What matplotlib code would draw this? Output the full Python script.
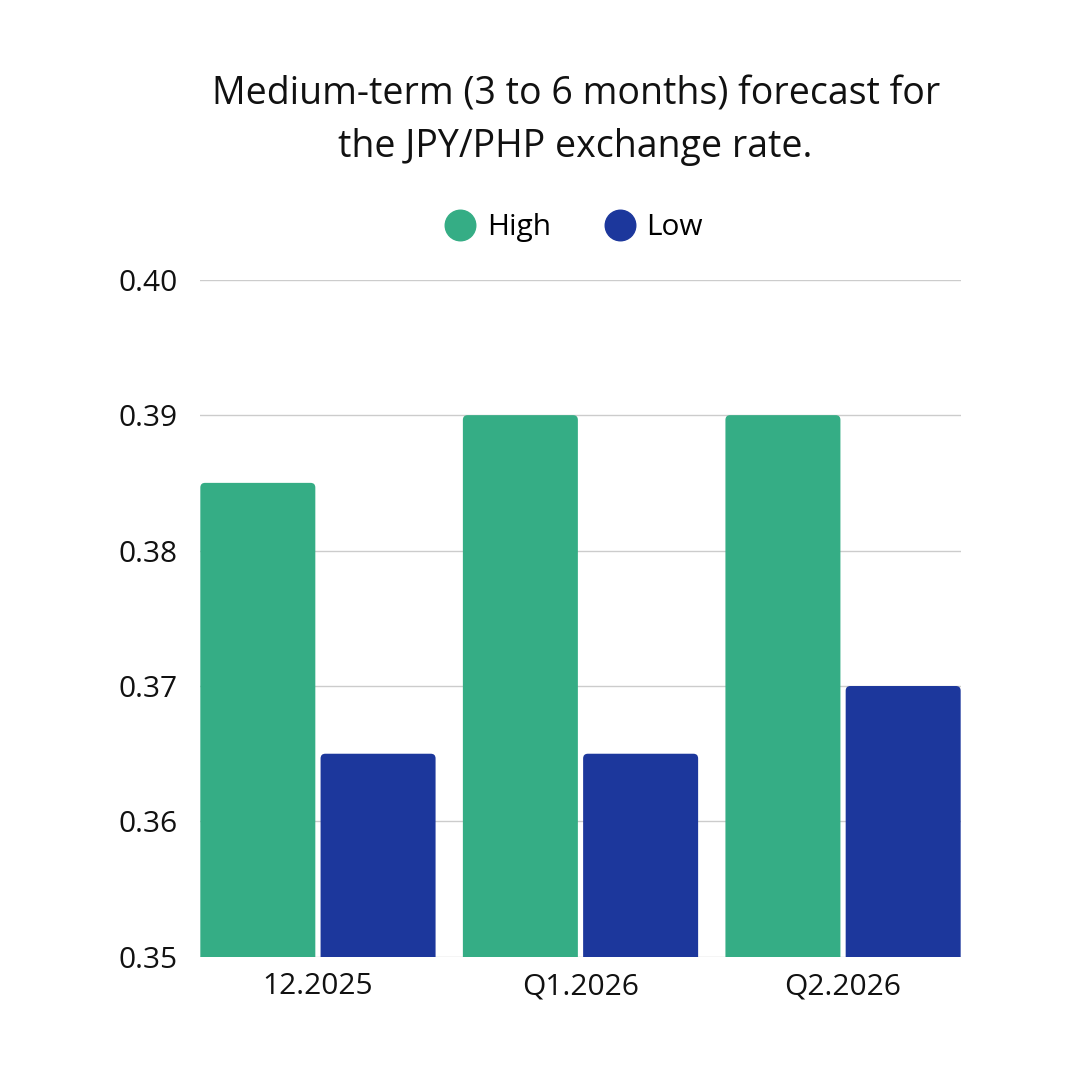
import numpy as np
import matplotlib
matplotlib.use('Agg')
import matplotlib.pyplot as plt
from matplotlib.lines import Line2D
from matplotlib.patches import FancyBboxPatch

plt.rcParams['font.family'] = ['Open Sans', 'DejaVu Sans']

periods = ['12.2025', 'Q1.2026', 'Q2.2026']
high = [0.385, 0.390, 0.390]
low = [0.365, 0.365, 0.370]
yticks = [0.35, 0.36, 0.37, 0.38, 0.39, 0.40]

green = '#35AD85'
blue = '#1C379C'

fig = plt.figure(figsize=(10.8, 10.8), dpi=100)
ax = fig.add_axes([0.185, 0.114, 0.705, 0.627])

x = np.arange(len(periods))
w = 0.438
off = 0.229
b1 = ax.bar(x - off, np.array(high) - 0.35, w, bottom=0.35, color=green, zorder=3)
b2 = ax.bar(x + off, np.array(low) - 0.35, w, bottom=0.35, color=blue, zorder=3)

# swap plain bars for slightly rounded ones
for bars in (b1, b2):
    for r in bars:
        r.set_visible(False)
        bx, by = r.get_x(), r.get_y()
        bw, bh = r.get_width(), r.get_height()
        p = FancyBboxPatch((bx, by - 0.001), bw, bh + 0.001,
                           boxstyle='round,pad=0,rounding_size=0.018',
                           mutation_aspect=0.05 / 677 * 262.5,
                           facecolor=r.get_facecolor(), edgecolor='none', zorder=3)
        ax.add_patch(p)

ax.set_xlim(-0.45, 2.45)
ax.set_ylim(0.35, 0.40)
ax.set_yticks(yticks)
ax.set_yticklabels([f'{v:.2f}' for v in yticks])
ax.set_xticks(x)
ax.set_xticklabels(periods)
ax.tick_params(axis='both', length=0, labelsize=21.5, colors='#111111')
ax.tick_params(axis='y', pad=16)
ax.tick_params(axis='x', pad=11)
ax.grid(axis='y', color='#CCCCCC', linewidth=1, zorder=0)
for s in ax.spines.values():
    s.set_visible(False)

fig.text(0.533, 0.888, 'Medium-term (3 to 6 months) forecast for\nthe JPY/PHP exchange rate.',
         ha='center', va='center', fontsize=27, linespacing=1.5, color='#111111')

handles = [Line2D([], [], marker='o', linestyle='none', markersize=22, color=green),
           Line2D([], [], marker='o', linestyle='none', markersize=22, color=blue)]
fig.legend(handles, ['High', 'Low'], loc='center', bbox_to_anchor=(0.530, 0.789),
           ncol=2, frameon=False, fontsize=21.5, handlelength=1.2,
           handletextpad=0.3, columnspacing=1.7)

fig.savefig('out.png', dpi=100, facecolor='white')
